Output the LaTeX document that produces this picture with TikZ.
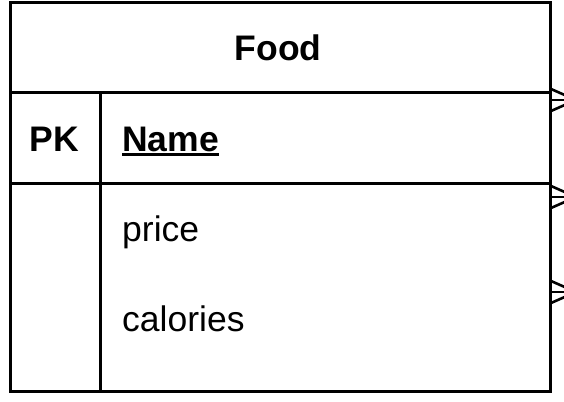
\documentclass[tikz,border=0pt]{standalone}
\usepackage{fontspec}
\setmainfont{Liberation Sans}
\begin{document}
\begin{tikzpicture}[x=1pt,y=-1pt,
  frame/.style={line width=3pt,black},
  foot/.style={line width=2.6pt,black},
  txt/.style={inner sep=0pt,font=\fontsize{35.5}{40}\selectfont},
  btxt/.style={inner sep=0pt,font=\fontsize{35.5}{40}\selectfont\bfseries}]
\useasboundingbox (0,0) rectangle (564,401);
\clip (0,0) rectangle (564,401);
% outer box and dividers
\draw[frame] (10,3) rectangle (550,391);
\draw[frame] (10,93) -- (550,93);
\draw[frame] (10,183) -- (550,183);
\draw[frame] (100,93) -- (100,391);
% texts
\node[btxt,anchor=base] (food) at (278,61) {Food};
\node[btxt,anchor=base] (pk) at (54,151) {PK};
\node[btxt,anchor=base west] (name) at (122,151) {Name};
\draw[line width=2.6pt] ([yshift=-3.5pt]name.base west) -- ([yshift=-3.5pt]name.base east);
\node[txt,anchor=base west] (price) at (122,241) {price};
\node[txt,anchor=base west] (cal) at (122,331) {calories};
% crow's feet at right edge
\foreach \c/\n in {100/a,197/b,292/c}{
  \coordinate (p\n) at (576,\c);
  \draw[foot] (551,\c-11) -- (p\n);
  \draw[foot] (551,\c) -- (p\n);
  \draw[foot] (551,\c+11) -- (p\n);
}
\end{tikzpicture}
\end{document}
